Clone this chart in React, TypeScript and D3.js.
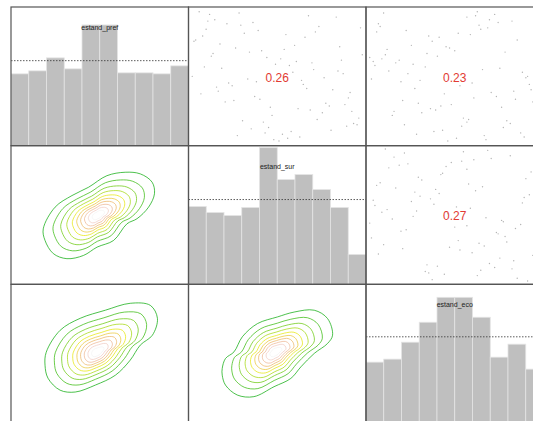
import * as d3 from 'd3'

// histogram counts (10 bins) per variable
const variables = ['estand_pref', 'estand_sur', 'estand_eco']
const histPref = [72, 75, 88, 77, 121, 121, 73, 73, 72, 80]
const histSur = [78, 72, 69, 77, 137, 105, 110, 95, 77, 30]
const histEco = [61, 64, 81, 101, 126, 126, 106, 66, 79, 54]
const histMax = 139

// correlation labels for the upper cells
const corrCells = [[0, 1], [0, 2], [1, 2]]
const corrValues = ['0.26', '0.23', '0.27']

// scatter values (0-100 scale) shown faintly behind the correlations
const pref = [12, 57, 83, 34, 71, 5, 46, 92, 28, 63, 19, 77, 41, 88, 9, 54, 31, 69, 96, 23, 48, 15, 81, 37, 60, 3, 74, 52, 26, 90, 43, 66, 8, 85, 30, 58, 17, 79, 50, 94, 21, 67, 38, 11, 73, 45, 87, 2, 62, 33, 98, 25, 56, 14, 82, 40, 70, 6, 47, 91, 29, 64, 18, 76, 53, 35, 89, 10, 59, 42, 95, 24, 68, 4, 80, 49, 32, 86, 16, 61, 39, 72, 7, 55, 97, 27, 65, 13, 84, 44]
const sur = [45, 8, 72, 91, 26, 63, 38, 14, 80, 52, 97, 3, 67, 29, 58, 85, 20, 41, 11, 76, 33, 94, 55, 6, 70, 48, 17, 88, 62, 36, 24, 99, 43, 9, 78, 57, 30, 66, 1, 84, 47, 13, 92, 35, 60, 22, 74, 51, 87, 40, 5, 69, 18, 96, 31, 82, 54, 27, 64, 10, 89, 44, 73, 2, 59, 37, 21, 81, 49, 15, 68, 93, 34, 56, 7, 77, 25, 98, 42, 61, 16, 86, 53, 71, 28, 46, 12, 90, 39, 65]
const eco = [78, 33, 5, 61, 47, 90, 19, 70, 42, 8, 55, 86, 27, 64, 38, 12, 95, 50, 73, 31, 2, 82, 59, 44, 16, 68, 97, 23, 36, 75, 53, 10, 88, 65, 29, 4, 80, 41, 92, 57, 14, 34, 71, 99, 25, 60, 7, 46, 18, 85, 63, 39, 76, 21, 52, 94, 11, 67, 30, 83, 48, 1, 58, 37, 89, 74, 6, 43, 26, 96, 62, 15, 79, 51, 35, 91, 20, 69, 57, 3, 84, 45, 28, 66, 9, 77, 40, 54, 22, 93]

// density contours: outer outline (standardized units), shrunk toward center per level
const contourLevels = [1, 0.82, 0.68, 0.57, 0.47, 0.39, 0.32, 0.25, 0.18, 0.11]
const contourColors = ['#00A600', '#2DB600', '#63C600', '#A0D600', '#E6E600', '#E8C32E', '#EBB25E', '#EDB48E', '#F0C9C0', '#F2F2F2']

const outline21 = [[-1.91, -0.6], [-1.51, 0.34], [-0.94, 0.84], [-0.38, 1.2], [0.24, 1.7], [0.86, 1.85], [1.37, 1.78], [1.77, 1.42], [1.85, 0.92], [1.65, 0.34], [1.26, -0.16], [0.92, -0.38], [0.47, -1.1], [-0.09, -1.39], [-0.55, -1.75], [-1.11, -1.89], [-1.57, -1.67], [-1.85, -1.1]]
const center21 = [-0.05, 0]
const outline31 = [[-1.81, 0.06], [-1.34, 1.01], [-0.66, 1.53], [0.19, 1.88], [1.03, 2.18], [1.71, 2.09], [1.95, 1.53], [1.78, 0.8], [1.37, 0.37], [1.03, -0.28], [0.53, -0.93], [-0.15, -1.36], [-0.83, -1.66], [-1.34, -1.58], [-1.75, -1.06], [-1.85, -0.5]]
const center31 = [-0.08, 0.06]
const outline32 = [[-1.86, -0.64], [-1.75, -0.21], [-1.46, 0.08], [-1.18, 0.73], [-0.67, 1.3], [0.01, 1.59], [0.57, 1.8], [1.25, 1.88], [1.7, 1.52], [1.87, 0.8], [1.7, 0.44], [1.25, 0.01], [0.8, -0.57], [0.46, -1.07], [-0.11, -1.43], [-0.79, -1.86], [-1.35, -1.79], [-1.75, -1.36], [-1.86, -0.93]]
const center32 = [-0.05, 0.08]

const W = 533
const H = 421

export default function App() {
	const gridX = d3.scaleLinear().domain([0, 3]).range([11, 543.5])
	const gridY = d3.scaleLinear().domain([0, 3]).range([7, 423])
	const pw = gridX(1) - gridX(0)
	const ph = gridY(1) - gridY(0)

	const hists = [histPref, histSur, histEco]
	const series = [pref, sur, eco]
	const contours = [
		{ row: 1, col: 0, outline: outline21, center: center21 },
		{ row: 2, col: 0, outline: outline31, center: center31 },
		{ row: 2, col: 1, outline: outline32, center: center32 },
	]

	const xBin = d3.scaleBand<number>().domain(d3.range(10)).range([0, pw])
	const yHist = d3.scaleLinear().domain([0, histMax]).range([ph, 0])
	const xSc = d3.scaleLinear().domain([0, 100]).range([2, pw - 2])
	const ySc = d3.scaleLinear().domain([0, 100]).range([ph - 2, 2])
	const xStd = d3.scaleLinear().domain([-3, 3]).range([0, pw])
	const yStd = d3.scaleLinear().domain([-3, 3]).range([ph, 0])
	const ring = d3
		.line<number[]>()
		.x((d) => xStd(d[0]))
		.y((d) => yStd(d[1]))
		.curve(d3.curveCatmullRomClosed.alpha(0.5))

	const cells = d3.cross(d3.range(3), d3.range(3))

	return (
		<svg width={W} height={H} style={{ position: 'absolute', left: 0, top: 0, background: '#fff' }}>
			<defs>
				<clipPath id='panel'>
					<rect x={0} y={0} width={pw} height={ph} />
				</clipPath>
			</defs>

			{/* diagonal histograms */}
			{hists.map((h, i) => (
				<g key={'h' + i} transform={`translate(${gridX(i)},${gridY(i)})`}>
					<g clipPath='url(#panel)'>
						{h.map((v, b) => (
							<rect
								key={b}
								x={xBin(b)}
								y={yHist(v)}
								width={xBin.bandwidth()}
								height={ph - yHist(v)}
								fill='#bfbfbf'
								stroke='#e4e4e4'
								strokeWidth={0.8}
							/>
						))}
						<line
							x1={0}
							x2={pw}
							y1={yHist(d3.mean(h) ?? 0)}
							y2={yHist(d3.mean(h) ?? 0)}
							stroke='#333'
							strokeWidth={0.8}
							strokeDasharray='1.5,1.5'
						/>
					</g>
					<text
						x={pw / 2}
						y={23}
						textAnchor='middle'
						fontSize={7}
						fontFamily='Liberation Sans, Arial, sans-serif'
						fill='#222'
					>
						{variables[i]}
					</text>
				</g>
			))}

			{/* upper: faint scatter + correlation */}
			{corrCells.map(([r, c], k) => (
				<g key={'c' + k} transform={`translate(${gridX(c)},${gridY(r)})`}>
					<g clipPath='url(#panel)'>
						{series[c].map((v, j) => (
							<circle key={j} cx={xSc(v)} cy={ySc(series[r][j] ?? 50)} r={0.7} fill='#b4b4b4' />
						))}
					</g>
					<text
						x={pw / 2}
						y={ph / 2 + 5.5}
						textAnchor='middle'
						fontSize={12}
						fontFamily='Liberation Sans, Arial, sans-serif'
						fill='#e23b33'
					>
						{corrValues[k]}
					</text>
				</g>
			))}

			{/* lower: density contours */}
			{contours.map((p, k) => (
				<g key={'d' + k} transform={`translate(${gridX(p.col)},${gridY(p.row)})`}>
					<g clipPath='url(#panel)'>
						{contourLevels.map((s, l) => (
							<path
								key={l}
								d={
									ring(
										p.outline.map(([x, y]) => [
											p.center[0] + (x - p.center[0]) * s,
											p.center[1] + (y - p.center[1]) * s,
										])
									) ?? ''
								}
								fill='none'
								stroke={contourColors[l]}
								strokeOpacity={0.7}
								strokeWidth={1}
							/>
						))}
					</g>
				</g>
			))}

			{/* panel frames */}
			{cells.map(([r, c]) => (
				<rect
					key={`f${r}${c}`}
					x={gridX(c)}
					y={gridY(r)}
					width={pw}
					height={ph}
					fill='none'
					stroke='#555'
					strokeWidth={1.2}
				/>
			))}
		</svg>
	)
}
